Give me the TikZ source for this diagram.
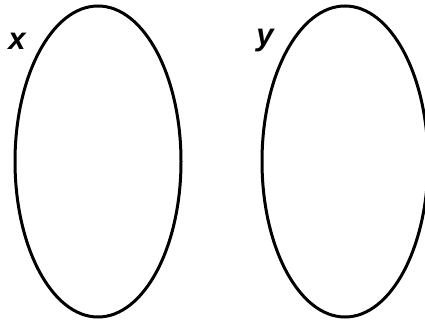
\documentclass[tikz,border=0pt]{standalone}
\usepackage{fontspec}
\setsansfont{Liberation Sans}
\usetikzlibrary{shapes.geometric}

\begin{document}
\begin{tikzpicture}[x=1pt,y=-1pt,
  setbox/.style={draw,ellipse,line width=3pt,minimum width=166pt,minimum height=311pt,inner sep=0pt},
  lbl/.style={font=\sffamily\bfseries\itshape\fontsize{31}{34}\selectfont,inner sep=0pt}]
  \useasboundingbox (0,0) rectangle (425,323);
  \node[setbox] (sx) at (98,161.5) {};
  \node[setbox] (sy) at (345,161.5) {};
  \node[lbl] (lx) at (17,41) {x};
  \node[lbl] (ly) at (265,41) {y};
\end{tikzpicture}
\end{document}
